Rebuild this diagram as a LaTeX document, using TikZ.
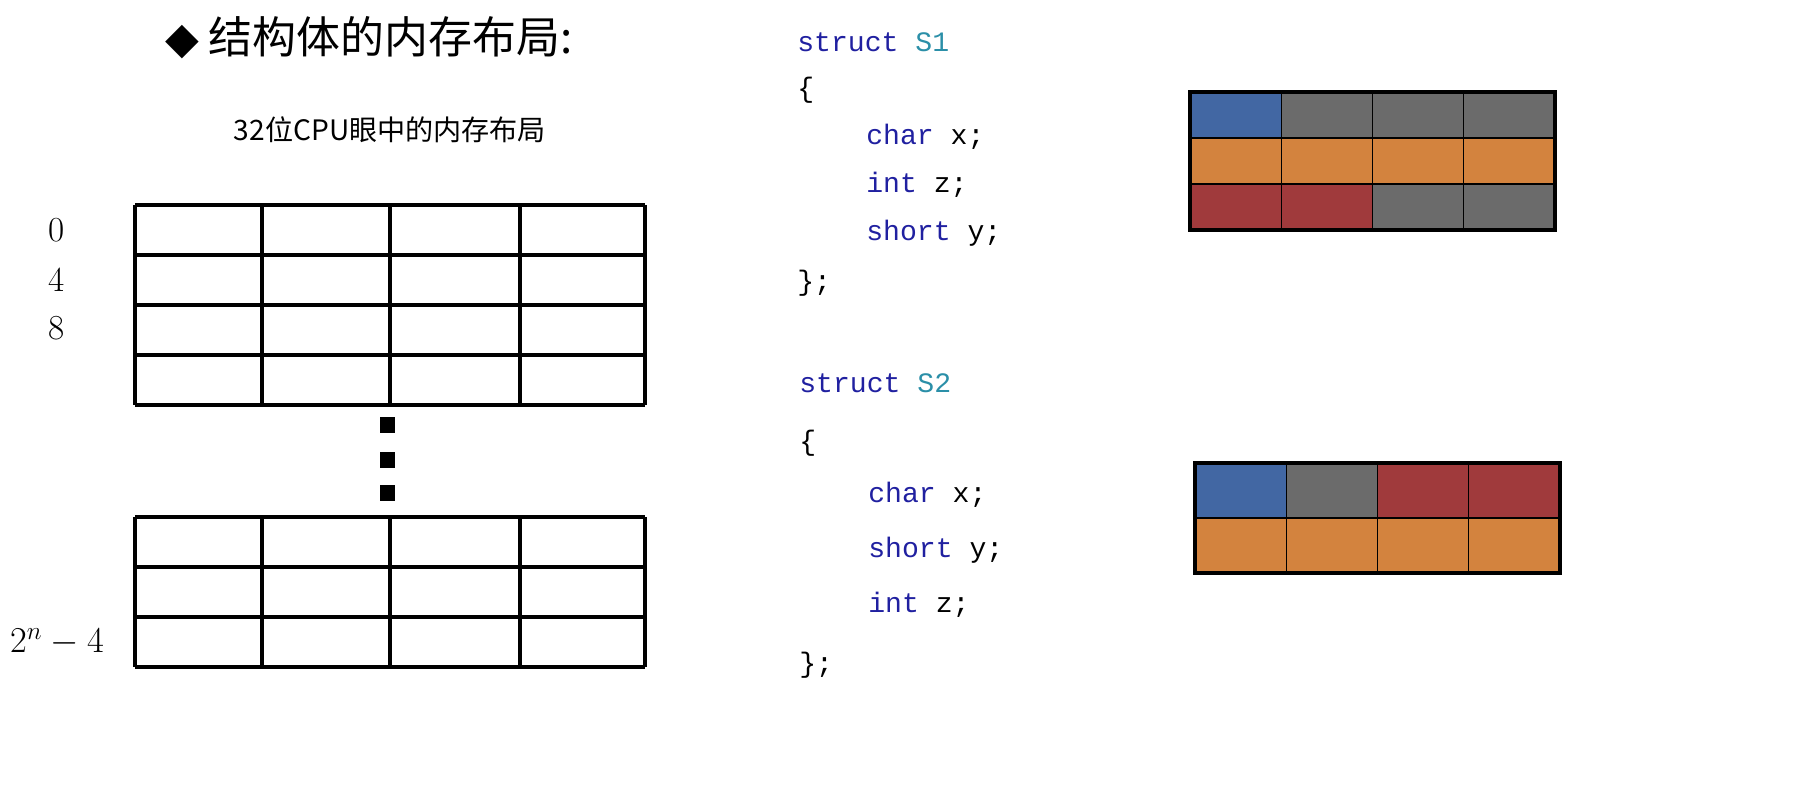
\documentclass[tikz,border=0pt]{standalone}
\usepackage{fontspec}
\newfontfamily\cjk{Noto Sans CJK SC}
\newfontfamily\codefont{Liberation Mono}
\newfontfamily\djv{DejaVu Sans}
\definecolor{kw}{HTML}{2020A0}
\definecolor{tn}{HTML}{2B8FA8}
\definecolor{cb}{HTML}{4267A3}
\definecolor{cg}{HTML}{6B6B6B}
\definecolor{co}{HTML}{D3833E}
\definecolor{cr}{HTML}{A03A3C}
\begin{document}
\begin{tikzpicture}[x=0.02cm,y=-0.02cm,
  grid/.style={line width=2.4pt},
  code/.style={anchor=west,font=\codefont\fontsize{16}{18}\selectfont,inner sep=0},
  lbl/.style={font=\fontsize{20}{22}\selectfont,inner sep=0},
  cell/.style={draw=black,line width=0.8pt}]
\useasboundingbox (0,0) rectangle (1800,802);
\node[anchor=west,font=\cjk\fontsize{25}{28}\selectfont,inner sep=0] (title) at (165,38) {{\djv ◆}\ 结构体的内存布局:};
\node[font=\cjk\fontsize{16}{18}\selectfont,inner sep=0] (sub) at (390,130) {32位CPU眼中的内存布局};
% grid 1
\foreach \y in {205,255,305,355,405} \draw[grid] (135,\y) -- (645,\y);
\foreach \x in {135,262,390,520,645} \draw[grid] (\x,205) -- (\x,405);
\foreach \y in {517,567,617,667} \draw[grid] (135,\y) -- (645,\y);
\foreach \x in {135,262,390,520,645} \draw[grid] (\x,517) -- (\x,667);
\foreach \y in {425,460,493} \fill (380,\y-8) rectangle (395,\y+8);
\node[lbl] (l0) at (57,230) {0};
\node[lbl] (l4) at (57,280) {4};
\node[lbl] (l8) at (57,328) {8};
\node[lbl] (ln) at (57,642) {$2^n-4$};
% code S1
\node[code] (a1) at (797,42) {\textcolor{kw}{struct} \textcolor{tn}{S1}};
\node[code] (a2) at (797,90) {\{};
\node[code] (a3) at (866,137) {\textcolor{kw}{char} x;};
\node[code] (a4) at (866,185) {\textcolor{kw}{int} z;};
\node[code] (a5) at (866,233) {\textcolor{kw}{short} y;};
\node[code] (a6) at (797,283) {\};};
% code S2
\node[code] (b1) at (799,383) {\textcolor{kw}{struct} \textcolor{tn}{S2}};
\node[code] (b2) at (799,443) {\{};
\node[code] (b3) at (868,495) {\textcolor{kw}{char} x;};
\node[code] (b4) at (868,550) {\textcolor{kw}{short} y;};
\node[code] (b5) at (868,605) {\textcolor{kw}{int} z;};
\node[code] (b6) at (799,665) {\};};
% S1 boxes
\def\xa{1190}\def\w{91.25}
\foreach \c [count=\i from 0] in {cb,cg,cg,cg} \filldraw[cell,fill=\c] (\xa+\i*\w,92) rectangle ++(\w,46);
\foreach \c [count=\i from 0] in {co,co,co,co} \filldraw[cell,fill=\c] (\xa+\i*\w,138) rectangle ++(\w,46);
\foreach \c [count=\i from 0] in {cr,cr,cg,cg} \filldraw[cell,fill=\c] (\xa+\i*\w,184) rectangle ++(\w,46);
\draw[line width=2pt] (1190,92) rectangle (1555,230);
% S2 boxes
\def\xb{1195}
\foreach \c [count=\i from 0] in {cb,cg,cr,cr} \filldraw[cell,fill=\c] (\xb+\i*\w,463) rectangle ++(\w,55);
\foreach \c [count=\i from 0] in {co,co,co,co} \filldraw[cell,fill=\c] (\xb+\i*\w,518) rectangle ++(\w,55);
\draw[line width=2pt] (1195,463) rectangle (1560,573);
\end{tikzpicture}
\end{document}
